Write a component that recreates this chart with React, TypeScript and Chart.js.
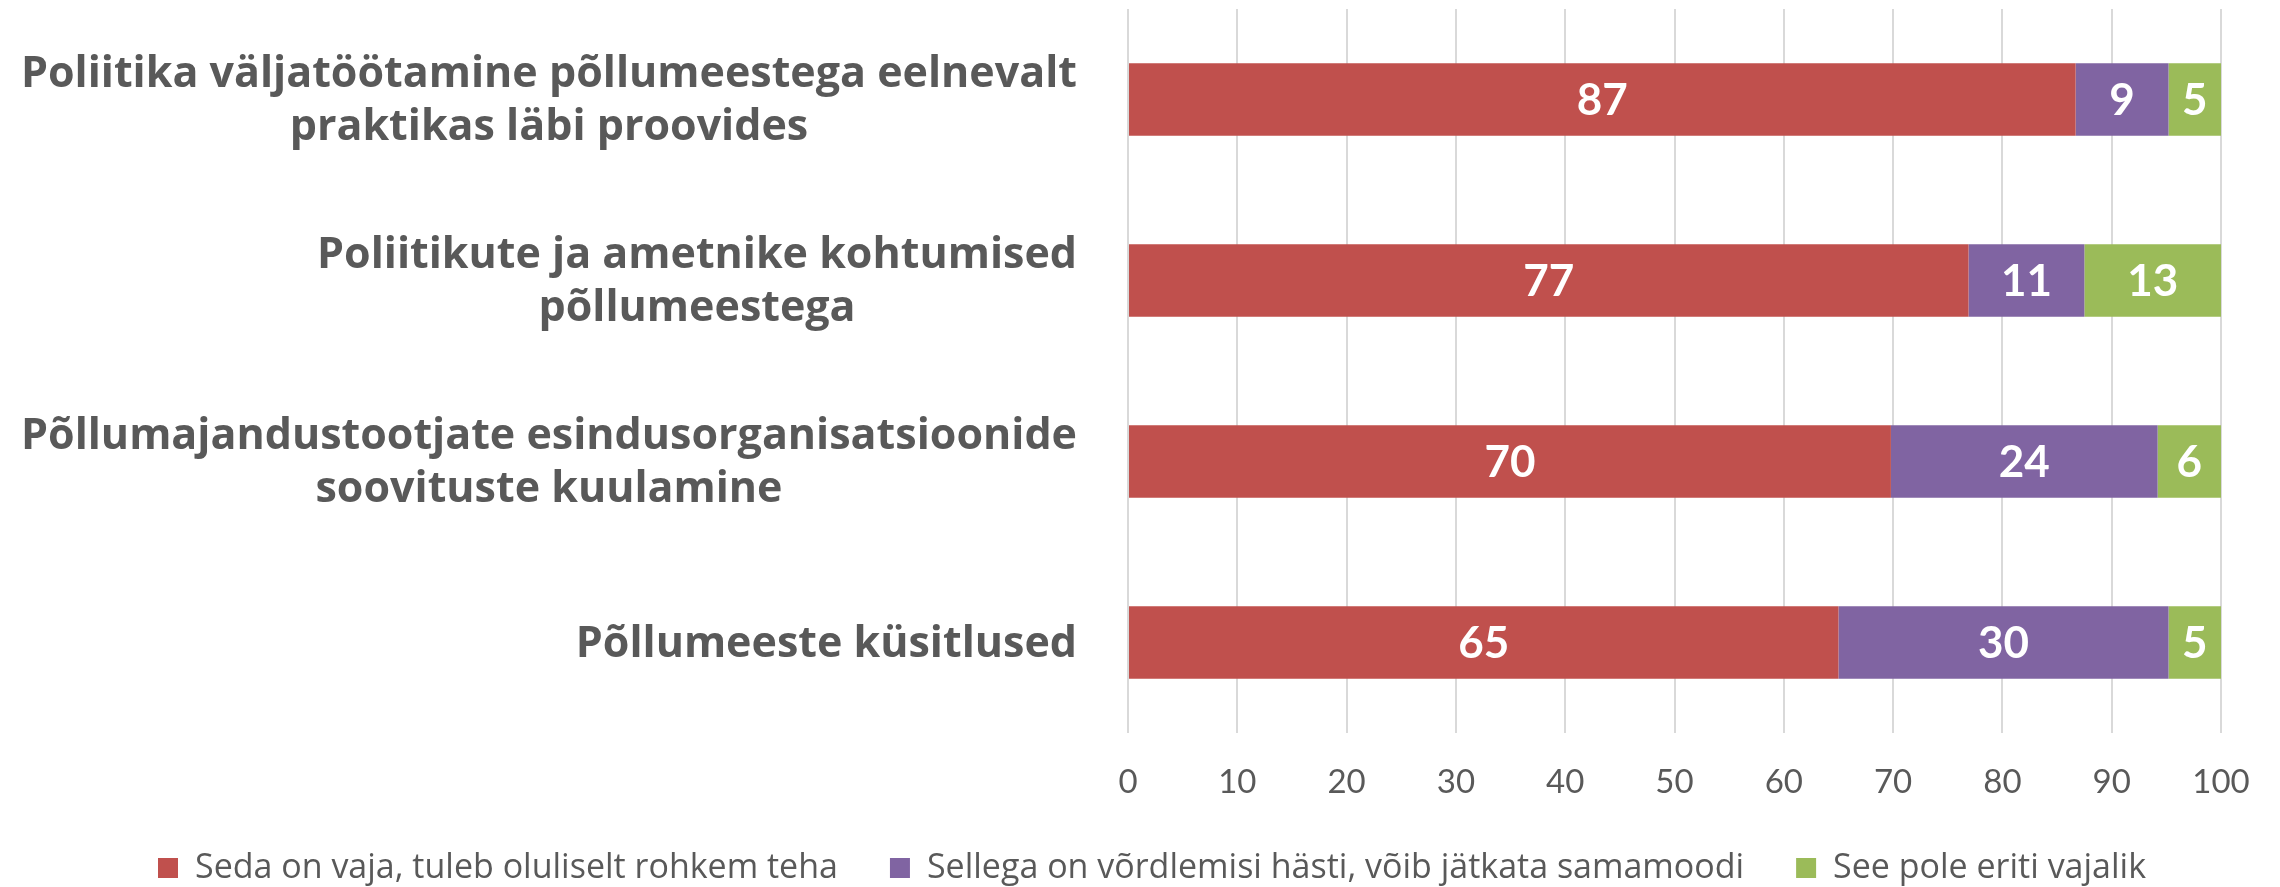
import React, { useEffect, useRef } from "react";
import { Chart, registerables } from "chart.js";

Chart.register(...registerables);

// ---- data ----
const categoryLines: string[][] = [
  ["Poliitika väljatöötamine põllumeestega eelnevalt", "praktikas läbi proovides"],
  ["Poliitikute ja ametnike kohtumised", "põllumeestega"],
  ["Põllumajandustootjate esindusorganisatsioonide", "soovituste kuulamine"],
  ["Põllumeeste küsitlused"],
];
const seriesNames: string[] = [
  "Seda on vaja, tuleb oluliselt rohkem teha",
  "Sellega on võrdlemisi hästi, võib jätkata samamoodi",
  "See pole eriti vajalik",
];
const muchMoreNeeded: number[] = [86.7, 76.9, 69.8, 65.0];
const fairlyWell: number[] = [8.5, 10.6, 24.4, 30.2];
const notNeeded: number[] = [4.8, 12.5, 5.8, 4.8];
const axisMin = 0;
const axisMax = 100;
const axisStep = 10;

// ---- styles ----
const seriesColors = ["#C0504D", "#8064A2", "#9BBB59"];
const textGray = "#595959";
const gridGray = "#D9D9D9";
const NUM_FONT = "Lato";
const TEXT_FONT = "'Open Sans'";

const categoryLabelPlugin = {
  id: "categoryLabels",
  afterDraw(chart: any) {
    const ctx = chart.ctx as CanvasRenderingContext2D;
    const yScale = chart.scales.y;
    const rightEdge = chart.chartArea.left - 51;
    const lineGap = 53;
    ctx.save();
    ctx.font = `bold 43px ${TEXT_FONT}`;
    ctx.fillStyle = textGray;
    ctx.textAlign = "center";
    ctx.textBaseline = "middle";
    categoryLines.forEach((lines, i) => {
      const cy = yScale.getPixelForValue(i) + 2;
      const w = Math.max(...lines.map((l) => ctx.measureText(l).width));
      const cx = rightEdge - w / 2;
      lines.forEach((line, k) => {
        ctx.fillText(line, cx, cy + (k - (lines.length - 1) / 2) * lineGap);
      });
    });
    ctx.restore();
  },
};

const valueLabelPlugin = {
  id: "valueLabels",
  afterDatasetsDraw(chart: any) {
    const ctx = chart.ctx as CanvasRenderingContext2D;
    ctx.save();
    ctx.font = `bold 44px ${NUM_FONT}`;
    ctx.fillStyle = "#FFFFFF";
    ctx.textAlign = "center";
    ctx.textBaseline = "middle";
    chart.data.datasets.forEach((ds: any, i: number) => {
      const meta = chart.getDatasetMeta(i);
      meta.data.forEach((el: any, j: number) => {
        const { x, y, base } = el.getProps(["x", "y", "base"], true);
        ctx.fillText(String(Math.round(ds.data[j])), (x + base) / 2, y + 1);
      });
    });
    ctx.restore();
  },
};

export default function App() {
  const canvasRef = useRef<HTMLCanvasElement | null>(null);

  useEffect(() => {
    if (!canvasRef.current) return;
    const values = [muchMoreNeeded, fairlyWell, notNeeded];
    const chart = new Chart(canvasRef.current, {
      type: "bar",
      data: {
        labels: categoryLines.map((l) => l.join(" ")),
        datasets: values.map((v, i) => ({
          label: seriesNames[i],
          data: v,
          backgroundColor: seriesColors[i],
          borderWidth: 0,
          barPercentage: 0.5,
          categoryPercentage: 0.8,
        })),
      },
      options: {
        indexAxis: "y",
        responsive: false,
        animation: false,
        layout: { padding: { left: 83, right: 59, top: 9, bottom: -8 } },
        scales: {
          x: {
            stacked: true,
            min: axisMin,
            max: axisMax,
            ticks: {
              stepSize: axisStep,
              color: textGray,
              font: { family: NUM_FONT, size: 33 },
              padding: 30,
            },
            grid: { color: gridGray, lineWidth: 2, drawTicks: false },
            border: { display: false },
            afterFit: (s: any) => {
              s.height = 66;
            },
          },
          y: {
            stacked: true,
            ticks: { display: false },
            grid: { display: false },
            border: { display: false },
            afterFit: (s: any) => {
              s.width = 1045;
            },
          },
        },
        plugins: {
          legend: {
            position: "bottom",
            labels: {
              boxWidth: 20,
              boxHeight: 20,
              padding: 52,
              color: textGray,
              font: { family: "Open Sans", size: 34 },
            },
          },
          tooltip: { enabled: false },
        },
      },
      plugins: [categoryLabelPlugin, valueLabelPlugin],
    } as any);
    return () => chart.destroy();
  }, []);

  return (
    <div style={{ position: "absolute", left: 0, top: 0, width: 2280, height: 887, background: "#fff" }}>
      <canvas ref={canvasRef} width={2280} height={887} style={{ display: "block" }} />
    </div>
  );
}
